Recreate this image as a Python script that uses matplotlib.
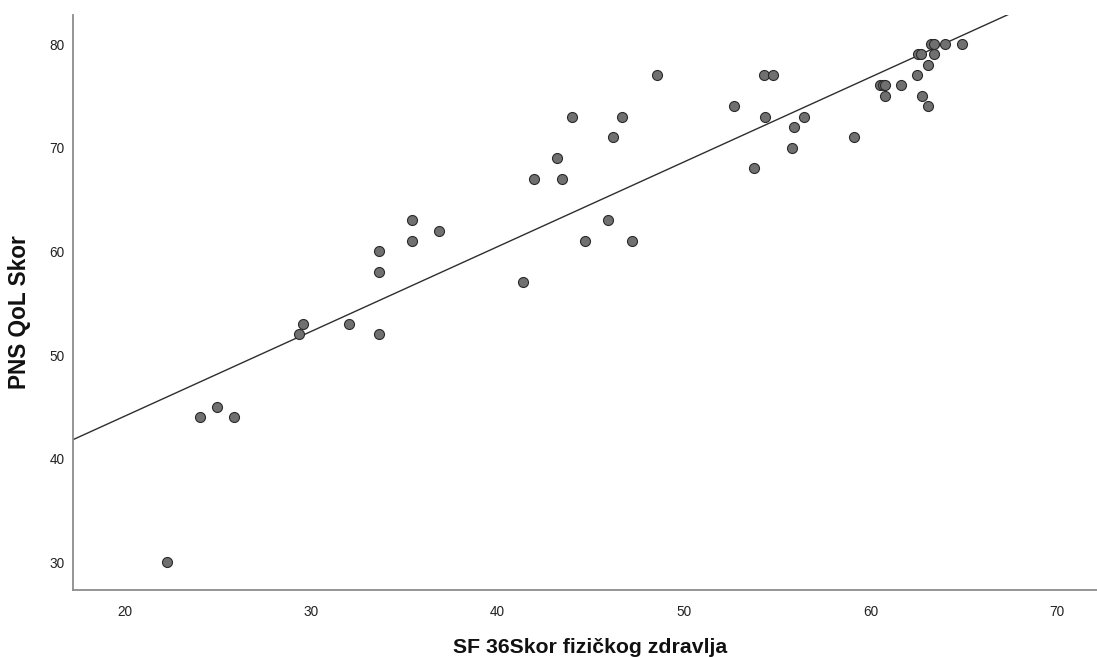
import numpy as np
import matplotlib
matplotlib.use("Agg")
import matplotlib.pyplot as plt

# SF-36 physical health score vs. PNS QoL score
sf36_physical = [
    22.25, 24.05, 24.95, 25.86, 29.36, 29.58, 32.04, 33.64, 33.64, 33.64,
    35.39, 35.39, 36.87, 41.35, 41.94, 43.47, 43.19, 43.97, 44.69, 45.90,
    46.20, 46.67, 47.19, 48.53, 52.68, 53.74, 54.29, 54.76, 54.36, 55.90,
    55.78, 56.44, 59.14, 60.52, 60.66, 60.78, 61.64, 60.78, 62.48, 62.75,
    63.07, 63.07, 62.57, 62.71, 63.41, 63.24, 63.41, 64.00, 64.93,
]
pns_qol = [
    30, 44, 45, 44, 52, 53, 53, 52, 60, 58,
    63, 61, 62, 57, 67, 67, 69, 73, 61, 63,
    71, 73, 61, 77, 74, 68, 77, 77, 73, 72,
    70, 73, 71, 76, 76, 76, 76, 75, 77, 75,
    74, 78, 79, 79, 79, 80, 80, 80, 80,
]
x_ticks = [20, 30, 40, 50, 60, 70]
y_ticks = [30, 40, 50, 60, 70, 80]

plt.rcParams["font.family"] = ["Liberation Sans", "DejaVu Sans"]

fig = plt.figure(figsize=(10.97, 6.57), dpi=100)
ax = fig.add_axes([73 / 1097, 67 / 657, 1 - 73 / 1097, (590 - 15) / 657])

x = np.array(sf36_physical)
y = np.array(pns_qol)

ax.scatter(x, y, s=52, facecolor="#707070", edgecolor="#2a2a2a",
           linewidth=0.8, zorder=3)

# linear fit line across the whole plotting range
slope, intercept = np.polyfit(x, y, 1)
xl = np.array([0, 100])
ax.plot(xl, intercept + slope * xl, color="#2e2e2e", linewidth=1.0, zorder=2)

ax.set_xlim(17.22, 72.16)
ax.set_ylim(27.33, 82.8)
ax.set_xticks(x_ticks)
ax.set_yticks(y_ticks)
ax.tick_params(length=0, labelsize=9.8, colors="#222222")
ax.tick_params(axis="x", pad=11)
ax.tick_params(axis="y", pad=6)

for side in ("top", "right"):
    ax.spines[side].set_visible(False)
for side in ("left", "bottom"):
    ax.spines[side].set_color("#8c8c8c")
    ax.spines[side].set_linewidth(1.3)

ax.set_xlabel("SF 36Skor fizičkog zdravlja", fontsize=15.3,
              fontweight="bold", color="#111111")
ax.xaxis.label.set_va("baseline")
ax.xaxis.set_label_coords(0.505, -0.109)

ax.set_ylabel("PNS QoL Skor", fontsize=16.3, fontweight="bold",
              color="#111111")
ax.yaxis.label.set_va("center")
ax.yaxis.label.set_ha("center")
ax.yaxis.set_label_coords(-0.052, 0.484)

fig.savefig("out.png", dpi=100, facecolor="white")
